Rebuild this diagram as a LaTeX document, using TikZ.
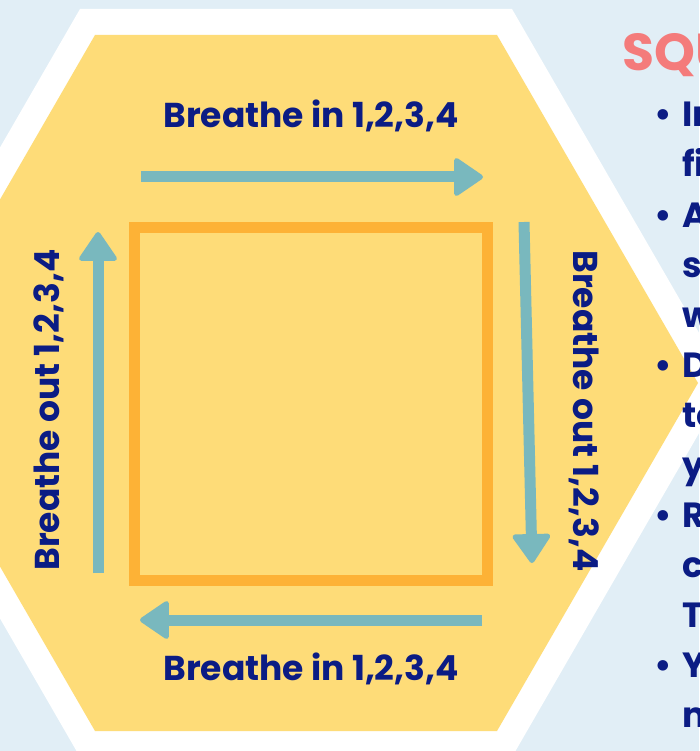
\documentclass[tikz,border=0pt]{standalone}
\usepackage{fontspec}
\setmainfont{Poppins}
\usetikzlibrary{arrows.meta}
\definecolor{bgblue}{HTML}{E1EEF6}
\definecolor{hexyellow}{HTML}{FEDC78}
\definecolor{sqorange}{HTML}{FDB236}
\definecolor{arrteal}{HTML}{79B8BE}
\definecolor{navy}{HTML}{0B1C84}
\definecolor{salmon}{HTML}{F47B7B}
\tikzset{
  tealarrow/.style={draw=arrteal, line width=11pt, -{Triangle[length=31pt,width=41pt,round,line width=5pt]}},
  lbl/.style={text=navy, font=\fontsize{34.5}{40}\selectfont\bfseries, inner sep=0pt, anchor=base},
  side/.style={text=navy, font=\fontsize{35}{50}\selectfont\bfseries, inner sep=0pt, anchor=base west},
  dot/.style={text=navy, font=\fontsize{35}{50}\selectfont\bfseries, inner sep=0pt, anchor=base},
}
\begin{document}
\begin{tikzpicture}[x=1pt,y=-1pt]
\clip (0,0) rectangle (699,751);
\fill[bgblue] (0,0) rectangle (699,751);
\fill[white] (80,9) -- (512,9) -- (728,383) -- (512,757) -- (80,757) -- (-136,383) -- cycle;
\fill[hexyellow] (95,35) -- (497,35) -- (698,383) -- (497,731) -- (95,731) -- (-106,383) -- cycle;
\draw[sqorange, line width=11pt] (134.5,227.5) rectangle (487.5,580.5);
% arrow end points
\coordinate (ta) at (141,177);
\coordinate (tb) at (483,177);
\coordinate (ra) at (524,222);
\coordinate (rb) at (532,563);
\coordinate (ba) at (482,620);
\coordinate (bb) at (140,620);
\coordinate (la) at (98,573);
\coordinate (lb) at (98,232);
\draw[tealarrow] (ta) -- (tb);
\draw[tealarrow] (ra) -- (rb);
\draw[tealarrow] (ba) -- (bb);
\draw[tealarrow] (la) -- (lb);
% labels
\node[lbl] (top) at (311,128) {Breathe in 1,2,3,4};
\node[lbl] (bot) at (311,680) {Breathe in 1,2,3,4};
\node[lbl, rotate=90] (left) at (59,410) {Breathe out 1,2,3,4};
\node[lbl, rotate=-90] (right) at (573,411) {Breathe out 1,2,3,4};
% right column
\node[text=salmon, font=\fontsize{52}{52}\selectfont\bfseries, inner sep=0pt, anchor=base west] (title) at (622,71) {SQU};
\foreach \y/\t/\b [count=\i] in {127/In/1,177/fi/0,227/A/1,277/s/0,327/w/0,377/D/1,427/to/0,477/y/0,527/R/1,577/c/0,627/T/0,677/Y/1,727/m/0}{
  \node[side] (s\i) at (682,\y) {\t};
  \ifnum\b=1 \node[dot] (d\i) at (663,\y) {\textbullet}; \fi
}
\end{tikzpicture}
\end{document}
